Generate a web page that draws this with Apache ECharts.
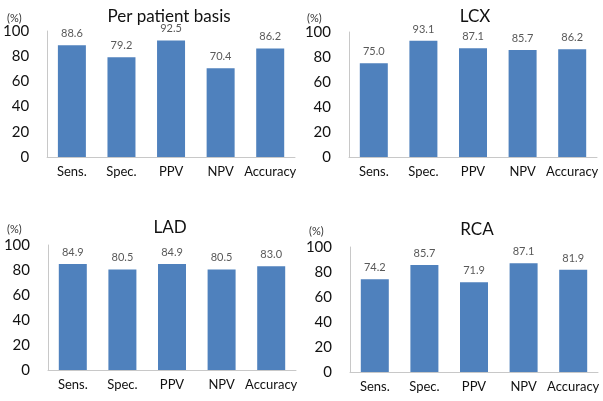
<!DOCTYPE html>
<html>
<head>
<meta charset="utf-8">
<script src="https://cdn.jsdelivr.net/npm/echarts@6/dist/echarts.min.js"></script>
<style>
  html, body { margin: 0; padding: 0; background: #fff; }
  #chart { width: 603px; height: 401px; }
</style>
</head>
<body>
<div id="chart"></div>
<script>
var categories = ["Sens.", "Spec.", "PPV", "NPV", "Accuracy"];
var yTicks = [0, 20, 40, 60, 80, 100];
var panelTitles = ["Per patient basis", "LCX", "LAD", "RCA"];
var perPatient = [88.6, 79.2, 92.5, 70.4, 86.2];
var lcx = [75.0, 93.1, 87.1, 85.7, 86.2];
var lad = [84.9, 80.5, 84.9, 80.5, 83.0];
var rca = [74.2, 85.7, 71.9, 87.1, 81.9];

var panelData = [perPatient, lcx, lad, rca];

// grid boxes, in px
var grids = [
  { left: 47, top: 31, width: 248, height: 126 },
  { left: 349, top: 32, width: 248, height: 125 },
  { left: 48, top: 245, width: 248, height: 125 },
  { left: 350, top: 247, width: 248, height: 125 }
];
var titlePos = [
  { x: 164, y: 3, u: 12 },
  { x: 470, y: 3, u: 312 },
  { x: 165, y: 214, u: 12 },
  { x: 472, y: 216, u: 314 }
];

var font = "Lato, 'Open Sans', sans-serif";
var axisGray = '#c8c8c8';

var titles = [];
var xAxes = [];
var yAxes = [];
var series = [];

for (var i = 0; i < 4; i++) {
  titles.push({
    text: panelTitles[i],
    left: titlePos[i].x,
    top: titlePos[i].y,
    textAlign: 'center',
    textStyle: { fontFamily: font, fontSize: 17, fontWeight: 'normal', color: '#111' }
  });
  titles.push({
    text: '(%)',
    left: titlePos[i].u - 10,
    top: titlePos[i].y + 5,
    textStyle: { fontFamily: font, fontSize: 11, fontWeight: 'normal', color: '#333' }
  });
  xAxes.push({
    gridIndex: i,
    type: 'category',
    data: categories,
    axisLine: { lineStyle: { color: axisGray } },
    axisTick: { show: false },
    axisLabel: { fontFamily: font, fontSize: 13, color: '#111', margin: 8, interval: 0 }
  });
  yAxes.push({
    gridIndex: i,
    type: 'value',
    min: yTicks[0],
    max: yTicks[yTicks.length - 1],
    interval: 20,
    axisLine: { show: true, lineStyle: { color: axisGray } },
    axisTick: { show: false },
    splitLine: { show: false },
    axisLabel: { fontFamily: font, fontSize: 15, color: '#111', margin: 18 }
  });
  series.push({
    type: 'bar',
    xAxisIndex: i,
    yAxisIndex: i,
    data: panelData[i],
    barWidth: 28,
    itemStyle: { color: '#4f81bd' },
    label: {
      show: true,
      position: 'top',
      distance: 6,
      fontFamily: font,
      fontSize: 11,
      color: '#595959',
      formatter: function (p) { return p.value.toFixed(1); }
    }
  });
}

var myChart = echarts.init(document.getElementById('chart'));
myChart.setOption({
  backgroundColor: '#ffffff',
  animation: false,
  title: titles,
  grid: grids,
  xAxis: xAxes,
  yAxis: yAxes,
  series: series
});
</script>
</body>
</html>
